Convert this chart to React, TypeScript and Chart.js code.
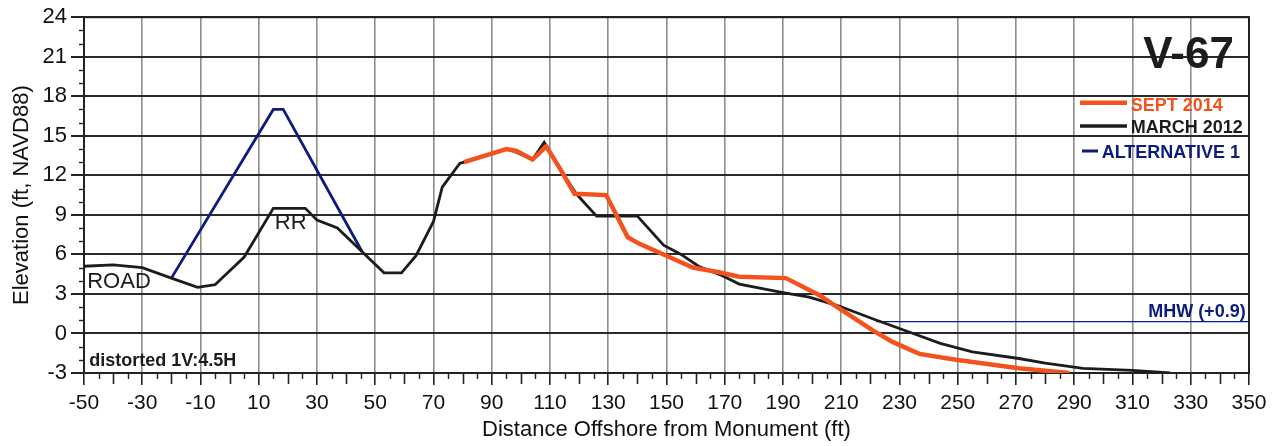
import { useEffect, useRef } from 'react';
import { Chart, registerables } from 'chart.js';

Chart.register(...registerables);

const FONT = '"Liberation Sans", Arial, Helvetica, sans-serif';
const ORANGE = '#f2521e';
const BLACK = '#1c1c1c';
const NAVY = '#0d1b7e';

// Tick labels
const xTickValues = [-50, -30, -10, 10, 30, 50, 70, 90, 110, 130, 150, 170, 190, 210, 230, 250, 270, 290, 310, 330, 350];
const yTickValues = [-3, 0, 3, 6, 9, 12, 15, 18, 21, 24];

// SEPT 2014 profile
const sept2014X = [80.5, 95, 98.5, 104, 108.7, 114, 118.4, 129.3, 136.7, 140.7, 150, 159, 168, 175, 191, 202.5, 209.3, 220.7, 227.6, 236.8, 249.4, 271, 288.3];
const sept2014Y = [13.0, 14.0, 13.85, 13.2, 14.2, 12.3, 10.6, 10.5, 7.3, 6.8, 5.9, 5.0, 4.65, 4.3, 4.2, 2.9, 1.9, 0.25, -0.64, -1.55, -2.0, -2.64, -3.0];

// MARCH 2012 profile
const march2012X = [-50, -40, -30, -20, -11, -5, 5, 15, 26, 30, 37, 45.5, 53, 59, 64, 70, 73, 79, 95, 98, 104, 108, 114, 119, 126, 140, 149, 155, 161, 169, 175, 190, 199, 209, 221, 234, 244, 255, 271, 280, 293, 310, 323];
const march2012Y = [5.1, 5.2, 5.0, 4.2, 3.5, 3.7, 5.8, 9.5, 9.5, 8.6, 8.0, 6.2, 4.6, 4.6, 5.9, 8.5, 11.1, 12.9, 14.0, 13.8, 13.2, 14.5, 12.3, 10.6, 8.9, 8.9, 6.7, 6.0, 5.1, 4.4, 3.75, 3.1, 2.75, 2.1, 1.1, 0.05, -0.75, -1.4, -1.9, -2.25, -2.65, -2.8, -3.0];

// ALTERNATIVE 1
const alt1X = [-20, 15, 18.4, 45.5];
const alt1Y = [4.2, 17, 17, 6.2];

// MHW level
const mhwX = [222, 350];
const mhwY = [0.9, 0.9];

const pts = (xs: number[], ys: number[]) => xs.map((x, i) => ({ x, y: ys[i] }));

const decorPlugin = {
  id: 'decor',
  beforeDatasetsDraw(chart: any) {
    const { ctx, chartArea: a } = chart;
    ctx.save();
    ctx.strokeStyle = '#222';
    ctx.lineWidth = 2;
    ctx.strokeRect(a.left, a.top, a.right - a.left, a.bottom - a.top);
    ctx.restore();
  },
  afterDraw(chart: any) {
    const { ctx, chartArea: a } = chart;
    const xs = chart.scales.x;
    const ys = chart.scales.y;
    const px = (v: number) => xs.getPixelForValue(v);
    const py = (v: number) => ys.getPixelForValue(v);
    ctx.save();
    // minor ticks x
    ctx.strokeStyle = '#222';
    for (let v = -50; v <= 350; v += 5) {
      if ((v + 50) % 20 === 0) continue;
      const len = v % 10 === 0 ? 11 : 6;
      const x = Math.round(px(v)) + 0.5;
      ctx.lineWidth = v % 10 === 0 ? 1.6 : 1.4;
      ctx.beginPath();
      ctx.moveTo(x, a.bottom);
      ctx.lineTo(x, a.bottom + len);
      ctx.stroke();
    }
    // minor ticks y
    for (let v = -3; v <= 24; v += 1) {
      if ((v + 3) % 3 === 0) continue;
      const y = Math.round(py(v)) + 0.5;
      ctx.lineWidth = 1.4;
      ctx.beginPath();
      ctx.moveTo(a.left - 5, y);
      ctx.lineTo(a.left + 1, y);
      ctx.stroke();
    }

    const text = (t: string, x: number, y: number, font: string, color: string, align: CanvasTextAlign, maxW?: number) => {
      ctx.font = font;
      ctx.fillStyle = color;
      ctx.textAlign = align;
      ctx.textBaseline = 'alphabetic';
      if (maxW) ctx.fillText(t, x, y, maxW);
      else ctx.fillText(t, x, y);
    };

    // annotations
    text('ROAD', px(-48.9), py(3.45), `22px ${FONT}`, BLACK, 'left', 64);
    text('RR', px(15.5), py(7.89), `22px ${FONT}`, BLACK, 'left', 32);
    text('distorted 1V:4.5H', px(-48.2), py(-2.47), `bold 18px ${FONT}`, BLACK, 'left', 150);
    text('MHW (+0.9)', px(348.85), py(1.24), `bold 18px ${FONT}`, NAVY, 'right', 100);
    text('V-67', px(344.8), py(20.17), `bold 44px ${FONT}`, BLACK, 'right', 94);

    // legend
    const leg = [
      { label: 'SEPT 2014', color: ORANGE, lw: 4.5, x0: 1080, x1: 1127, ly: 102.7, tx: 1130.7, ty: 111, w: 95 },
      { label: 'MARCH 2012', color: BLACK, lw: 3.5, x0: 1080, x1: 1127, ly: 126, tx: 1130.7, ty: 132.7, w: 114 },
      { label: 'ALTERNATIVE 1', color: NAVY, lw: 3, x0: 1082, x1: 1098, ly: 151, tx: 1101.7, ty: 157.7, w: 141 },
    ];
    for (const l of leg) {
      ctx.strokeStyle = l.color;
      ctx.lineWidth = l.lw;
      ctx.beginPath();
      ctx.moveTo(l.x0, l.ly);
      ctx.lineTo(l.x1, l.ly);
      ctx.stroke();
      text(l.label, l.tx, l.ty, `bold 18px ${FONT}`, l.color, 'left', l.w);
    }
    ctx.restore();
  },
};

export default function App() {
  const canvasRef = useRef<HTMLCanvasElement | null>(null);

  useEffect(() => {
    if (!canvasRef.current) return;
    const chart = new Chart(canvasRef.current, {
      type: 'line',
      data: {
        datasets: [
          { label: 'SEPT 2014', data: pts(sept2014X, sept2014Y), borderColor: ORANGE, borderWidth: 4.5, pointRadius: 0, tension: 0 },
          { label: 'MARCH 2012', data: pts(march2012X, march2012Y), borderColor: BLACK, borderWidth: 2.8, pointRadius: 0, tension: 0 },
          { label: 'ALTERNATIVE 1', data: pts(alt1X, alt1Y), borderColor: NAVY, borderWidth: 2.8, pointRadius: 0, tension: 0 },
          { label: 'MHW', data: pts(mhwX, mhwY), borderColor: NAVY, borderWidth: 1.3, pointRadius: 0, tension: 0 },
        ],
      },
      options: {
        animation: false,
        responsive: true,
        maintainAspectRatio: false,
        layout: { padding: { top: 14, right: 31, left: 0, bottom: 0 } },
        plugins: { legend: { display: false }, tooltip: { enabled: false } },
        scales: {
          x: {
            type: 'linear',
            min: -50,
            max: 350,
            afterBuildTicks: (s: any) => { s.ticks = xTickValues.map((v) => ({ value: v })); },
            afterFit: (s: any) => { s.height = 73; },
            ticks: { autoSkip: false, maxRotation: 0, padding: 6, color: '#111', font: { family: FONT, size: 21 } },
            grid: { color: '#8e8e8e', lineWidth: 1.6, tickLength: 12, tickColor: '#222', tickWidth: 1.6 },
            border: { display: true, color: '#222', width: 2 },
            title: { display: true, text: 'Distance Offshore from Monument (ft)', color: '#111', font: { family: FONT, size: 22 }, padding: { top: 0, bottom: 3 } },
          },
          y: {
            type: 'linear',
            min: -3,
            max: 24,
            afterBuildTicks: (s: any) => { s.ticks = yTickValues.map((v) => ({ value: v })); },
            afterFit: (s: any) => { s.width = 84; },
            ticks: { padding: 4, color: '#111', font: { family: FONT, size: 22 } },
            grid: { color: '#2a2a2a', lineWidth: 2, tickLength: 13, tickColor: '#222' },
            border: { display: true, color: '#222', width: 2 },
            title: { display: true, text: 'Elevation (ft, NAVD88)', color: '#111', font: { family: FONT, size: 22 }, padding: { top: 9, bottom: 0 } },
          },
        },
      },
      plugins: [decorPlugin],
    } as any);
    return () => chart.destroy();
  }, []);

  return (
    <div style={{ position: 'fixed', left: 0, top: 0, width: 1280, height: 446, background: '#fff' }}>
      <canvas ref={canvasRef} style={{ display: 'block' }} />
    </div>
  );
}
